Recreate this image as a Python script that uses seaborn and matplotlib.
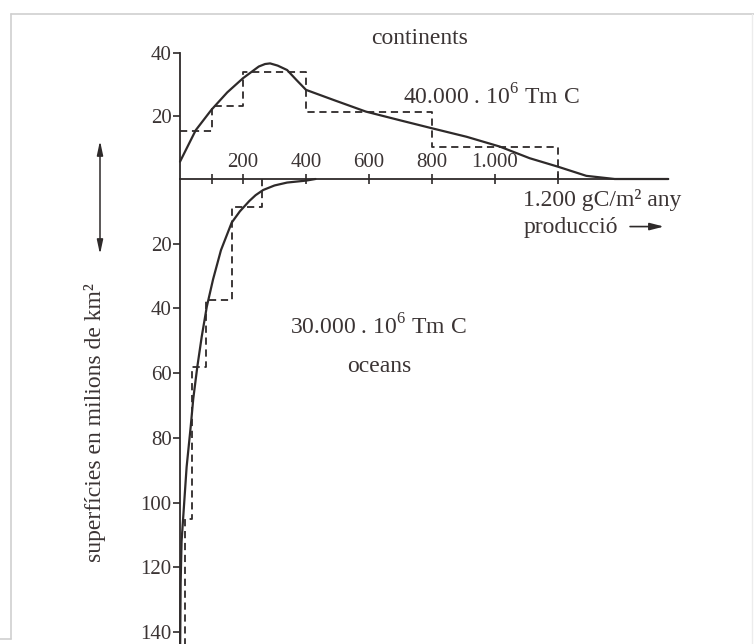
import matplotlib
matplotlib.use("Agg")
import matplotlib.pyplot as plt
import seaborn as sns
from matplotlib.lines import Line2D

# ====================== dades ======================
# continents: corba i histograma (producció gC/m² any, superfície milions km²)
cont_x = [0, 50, 100, 150, 200, 250, 270, 286, 310, 340, 370, 400, 490, 590, 700, 800, 910, 1015, 1110, 1200, 1290, 1380, 1550]
cont_y = [5.5, 15.5, 22, 27.5, 32, 35.7, 36.5, 36.7, 36, 34.6, 31.4, 28.3, 25, 21.4, 18.6, 16.1, 13.4, 10.3, 6.6, 3.9, 1, 0, 0]
cont_step_x = [0, 100, 200, 400, 800, 1200]
cont_step_y = [15.2, 23.2, 34, 21.2, 10.3, 0]

# oceans (superfície cap avall)
ocean_x = [430, 400, 340, 300, 264, 240, 220, 190, 164, 130, 105, 85, 69, 55, 42, 34, 21, 5, 2, 0.5]
ocean_y = [0, 0.5, 1.1, 2, 3.4, 5, 6.8, 10, 13.5, 22, 31, 39.5, 48.7, 58, 68, 76.5, 89, 112, 125, 145]
ocean_step_x = [260, 165, 83, 38, 17, 17]
ocean_step_y = [0, 8.5, 37.5, 58, 105, 150]

x_ticks = [100, 200, 400, 600, 800, 1000, 1200]
x_labels = ["200", "400", "600", "800", "1.000"]
x_label_pos = [200, 400, 600, 800, 1000]
top_ticks = [20, 40]
bottom_ticks = [20, 40, 60, 80, 100, 120, 140]

# ====================== estil ======================
sns.set_theme(style="white")
plt.rcParams['font.family'] = ['Liberation Serif', 'DejaVu Serif']
plt.rcParams['mathtext.fontset'] = 'custom'
plt.rcParams['mathtext.rm'] = 'Liberation Serif'
ink = "#2e2a2a"
txt = "#3b3434"

W, H = 754, 644
fig = plt.figure(figsize=(W / 100, H / 100), dpi=100)
fig.patch.set_facecolor("white")

def fx(px):
    return px / W

def fy(py):
    return (H - py) / H

x0_px, x1_px, axis_px = 180, 700, 179
xmax = (x1_px - x0_px) / 0.315
ax_top = fig.add_axes([fx(x0_px), fy(axis_px), fx(x1_px - x0_px), (axis_px - 45) / H])
ax_bot = fig.add_axes([fx(x0_px), 0, fx(x1_px - x0_px), (H - axis_px) / H])
for a in (ax_top, ax_bot):
    a.set_facecolor("none")
    a.set_xlim(0, xmax)
    for s in a.spines.values():
        s.set_visible(False)
ax_top.set_ylim(0, (axis_px - 45) / 3.15)
ax_bot.set_ylim((H - axis_px) / 3.236, 0)

# ====================== corbes ======================
dash = (0, (4, 2.6))
sns.lineplot(x=cont_x, y=cont_y, ax=ax_top, color=ink, lw=1.6, sort=False, estimator=None)
sns.lineplot(x=cont_step_x, y=cont_step_y, ax=ax_top, color=ink, lw=1.3, sort=False,
             estimator=None, drawstyle="steps-post", linestyle=dash)
sns.lineplot(x=ocean_x, y=ocean_y, ax=ax_bot, color=ink, lw=1.6, sort=False, estimator=None)
sns.lineplot(x=ocean_step_x, y=ocean_step_y, ax=ax_bot, color=ink, lw=1.3, sort=False,
             estimator=None, drawstyle="steps-pre", linestyle=dash)
for a in (ax_top, ax_bot):
    for ln in a.lines:
        ln.set_clip_on(False)
        ln.set_solid_joinstyle('round')

# ====================== eixos ======================
ax_top.spines['left'].set_visible(True)
ax_top.spines['left'].set_bounds(0, 40)
ax_top.spines['bottom'].set_visible(True)
ax_top.spines['bottom'].set_bounds(0, 1550)
ax_bot.spines['left'].set_visible(True)
for a in (ax_top, ax_bot):
    for s in ('left', 'bottom'):
        a.spines[s].set_color(ink)
        a.spines[s].set_linewidth(1.3)

ax_top.set_yticks(top_ticks)
ax_bot.set_yticks(bottom_ticks)
ax_top.set_xticks(x_ticks)
ax_top.set_xticklabels([])
ax_bot.set_xticks([])
ax_top.tick_params(axis='x', direction='inout', length=7, width=1.2, color=ink, bottom=True)
for a in (ax_top, ax_bot):
    a.tick_params(axis='y', direction='out', length=5, width=1.2, color=ink, left=True,
                  labelsize=15, labelcolor=txt, pad=1)

for xv, lab in zip(x_label_pos, x_labels):
    ax_top.annotate(lab, (xv, 0), xytext=(0, 5), textcoords='offset points',
                    ha='center', va='bottom', fontsize=15, color=txt)

ax_bot.text(1090, 6.5, "1.200 gC/m² any", fontsize=17, color=txt, ha='left', va='center')
ax_bot.text(1090, 15, "producció", fontsize=17, color=txt, ha='left', va='center')
ax_bot.annotate("", xy=(1545, 14.7), xytext=(1420, 14.7),
                arrowprops=dict(arrowstyle="-|>,head_width=0.18,head_length=0.7", color=ink, lw=1.2))

ax_top.text(708, 26, r"40.000 . 10$^{\mathrm{6}}$ Tm C", fontsize=17, color=txt, ha='left', va='center')
ax_bot.text(349, 45.7, r"30.000 . 10$^{\mathrm{6}}$ Tm C", fontsize=17, color=txt, ha='left', va='center')
ax_bot.text(632, 58, "oceans", fontsize=17, color=txt, ha='center', va='center')
fig.text(fx(420), fy(38), "continents", fontsize=17, color=txt, ha='center', va='center')
fig.text(fx(95), fy(423), "superfícies en milions de km²", fontsize=17, color=txt,
         ha='center', va='center', rotation=90)

# fletxa doble
ax_top.annotate("", xy=(fx(100), fy(138)), xytext=(fx(100), fy(257)), xycoords='figure fraction',
                arrowprops=dict(arrowstyle="<|-|>,head_width=0.15,head_length=0.7", color=ink, lw=1.1))

# marc
frame = "#cfcfcf"
fig.add_artist(Line2D([fx(11), fx(11)], [fy(14), fy(639)], color=frame, lw=1.2))
fig.add_artist(Line2D([fx(11), fx(754)], [fy(14), fy(14)], color=frame, lw=1.2))
fig.add_artist(Line2D([0, fx(11)], [fy(639), fy(639)], color=frame, lw=1.2))
fig.add_artist(Line2D([fx(752), fx(752)], [fy(14), fy(644)], color="#ececec", lw=1))

fig.savefig("out.png", dpi=100)
